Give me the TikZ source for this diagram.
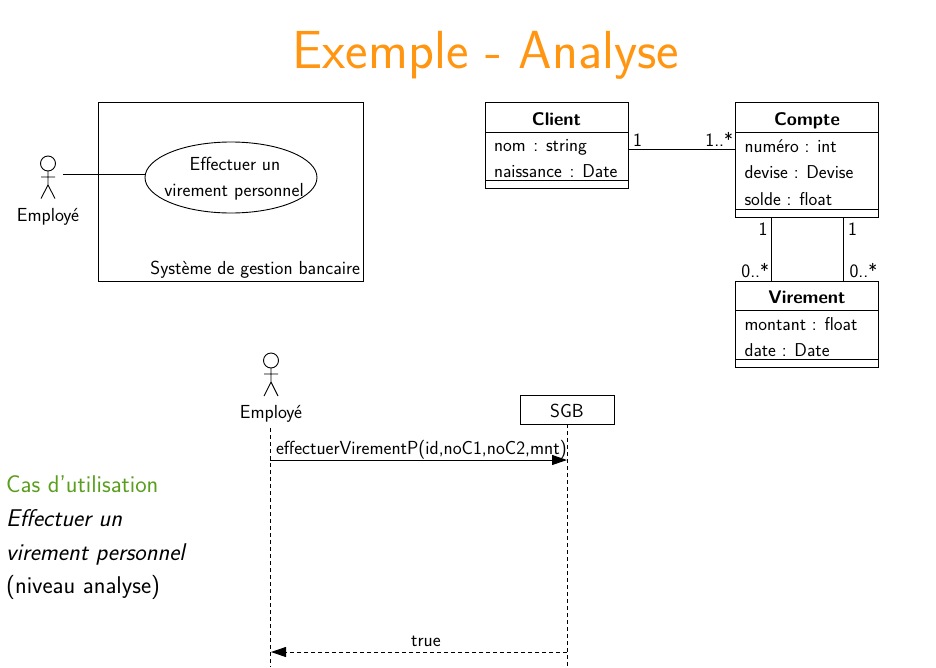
\documentclass[tikz,border=0pt]{standalone}
\usepackage{fontspec}
\usetikzlibrary{arrows.meta,shapes.geometric}
\renewcommand{\familydefault}{\sfdefault}
\definecolor{titleorange}{HTML}{FF9510}
\definecolor{casgreen}{HTML}{5A9E1E}
\newcommand{\fs}[1]{\fontsize{#1}{#1}\selectfont}
\tikzset{
  line/.style={draw=black,line width=0.9pt},
  lbl/.style={inner sep=0pt,outer sep=0pt,font=\sffamily\fs{18.9}},
  attr/.style={inner sep=0pt,outer sep=0pt,anchor=base west,font=\sffamily\fs{18.6}},
  classbox/.style={draw=black,line width=0.9pt,anchor=north west,inner sep=0pt,outer sep=0pt},
  head/.style={draw=black,circle,line width=0.9pt,minimum size=15pt,inner sep=0pt,outer sep=0pt},
  lifeline/.style={line width=0.9pt,dash pattern=on 4pt off 3pt},
  msg/.style={line width=0.9pt,-{Triangle[length=15pt,width=10pt]}},
  leftlbl/.style={anchor=base west,inner sep=0pt,font=\sffamily\fs{24.2}},
}
\begin{document}
\begin{tikzpicture}[x=1pt,y=-1pt]
\useasboundingbox (0,0) rectangle (936,667);
% title
\node[inner sep=0pt,anchor=base,text=titleorange,font=\sffamily\fs{53.6}] (title) at (486,68) {Exemple - Analyse};

% use case
\node[classbox,minimum width=265pt,minimum height=179pt] (sys) at (98.5,102) {};
\node[lbl,anchor=base east] (syslabel) at (360,274) {Système de gestion bancaire};
\node[draw=black,ellipse,line width=0.9pt,minimum width=172pt,minimum height=71pt,inner sep=0pt,outer sep=0pt] (uc) at (231,177.5) {};
\node[lbl,anchor=base] (uc1) at (235,170) {Effectuer un};
\node[lbl,anchor=base] (uc2) at (234,196) {virement personnel};
% actor 1
\node[head] (a1) at (48,163.5) {};
\coordinate (a1hip) at (48,185);
\coordinate (a1la) at (41,177); \coordinate (a1ra) at (55,177);
\coordinate (a1ll) at (41,198.5); \coordinate (a1rl) at (55,198.5);
\draw[line] (a1) -- (a1hip) (a1la) -- (a1ra) (a1ll) -- (a1hip) -- (a1rl);
\node[lbl,anchor=base] (a1label) at (48,221) {Employé};
\coordinate (a1hand) at (63,174);
\draw[line] (a1hand) -- (a1hand -| uc.west);

% class diagram
\node[classbox,minimum width=143pt,minimum height=86pt] (client) at (485,102) {};
\draw[line] ([yshift=-30pt]client.north west) -- ([yshift=-30pt]client.north east);
\draw[line] ([yshift=8pt]client.south west) -- ([yshift=8pt]client.south east);
\node[lbl,anchor=base,font=\bfseries\sffamily\fs{18.3}] (clientname) at (556.5,125) {Client};
\node[attr] (c1) at (494,151) {nom\hspace{2pt}\ : string};
\node[attr] (c2) at (494,177) {naissance\hspace{2pt}\ : Date};

\node[classbox,minimum width=143pt,minimum height=115pt] (compte) at (735.5,102) {};
\draw[line] ([yshift=-30pt]compte.north west) -- ([yshift=-30pt]compte.north east);
\draw[line] ([yshift=8pt]compte.south west) -- ([yshift=8pt]compte.south east);
\node[lbl,anchor=base,font=\bfseries\sffamily\fs{18.3}] (comptename) at (807,125) {Compte};
\node[attr] (d1) at (744.5,152) {numéro : int};
\node[attr] (d2) at (744.5,178) {devise : Devise};
\node[attr] (d3) at (744.5,205) {solde : float};

\node[classbox,minimum width=143pt,minimum height=86pt] (virement) at (735.5,281) {};
\draw[line] ([yshift=-29.5pt]virement.north west) -- ([yshift=-29.5pt]virement.north east);
\draw[line] ([yshift=8pt]virement.south west) -- ([yshift=8pt]virement.south east);
\node[lbl,anchor=base,font=\bfseries\sffamily\fs{18.3}] (virementname) at (807,303) {Virement};
\node[attr] (v1) at (744.5,330) {montant : float};
\node[attr] (v2) at (744.5,356) {date : Date};

\coordinate (assoc) at ([yshift=-4pt]client.east);
\draw[line] (assoc) -- (assoc -| compte.west);
\draw[line] ([xshift=-36pt]compte.south) -- ([xshift=-36pt]virement.north);
\draw[line] ([xshift=36pt]compte.south) -- ([xshift=36pt]virement.north);
\node[lbl,anchor=base west] (m1) at (633,146) {1};
\node[lbl,anchor=base east] (m2) at (733,146) {1..*};
\node[lbl,anchor=base east] (m3) at (767.5,235) {1};
\node[lbl,anchor=base west] (m4) at (848,235) {1};
\node[lbl,anchor=base east] (m5) at (769,277) {0..*};
\node[lbl,anchor=base west] (m6) at (849.5,277) {0..*};

% sequence
\node[head] (a2) at (271,360.5) {};
\coordinate (a2hip) at (271,382);
\coordinate (a2la) at (264,374); \coordinate (a2ra) at (278,374);
\coordinate (a2ll) at (264,396); \coordinate (a2rl) at (278,396);
\draw[line] (a2) -- (a2hip) (a2la) -- (a2ra) (a2ll) -- (a2hip) -- (a2rl);
\node[lbl,anchor=base] (a2label) at (271,418) {Employé};
\node[draw=black,line width=0.9pt,minimum width=93.5pt,minimum height=28.5pt,inner sep=0pt,outer sep=0pt,anchor=north west] (sgb) at (520.5,395.5) {};
\node[lbl,anchor=base] (sgblabel) at (567,417) {SGB};
\coordinate (l1top) at (270,428); \coordinate (l1bot) at (270,667);
\coordinate (l2top) at (567,424); \coordinate (l2bot) at (567,667);
\draw[lifeline] (l1top) -- (l1bot);
\draw[lifeline] (l2top) -- (l2bot);
\coordinate (m1a) at (270,460); \coordinate (m1b) at (567,460);
\coordinate (m2a) at (567,652); \coordinate (m2b) at (271,652);
\draw[msg] (m1a) -- (m1b);
\draw[msg,dash pattern=on 4pt off 3pt] (m2a) -- (m2b);
\node[lbl,anchor=base west] (call) at (276,454) {effectuerVirementP(id,noC1,noC2,mnt)};
\node[lbl,anchor=base] (ret) at (426,646) {true};

% left text
\node[leftlbl,text=casgreen] (t1) at (6,492) {Cas d'utilisation};
\node[leftlbl,font=\sffamily\itshape\fs{24.2}] (t2) at (6,526) {Effectuer un};
\node[leftlbl,font=\sffamily\itshape\fs{24.2}] (t3) at (6,560) {virement personnel};
\node[leftlbl] (t4) at (6,593) {(niveau analyse)};
\end{tikzpicture}
\end{document}
